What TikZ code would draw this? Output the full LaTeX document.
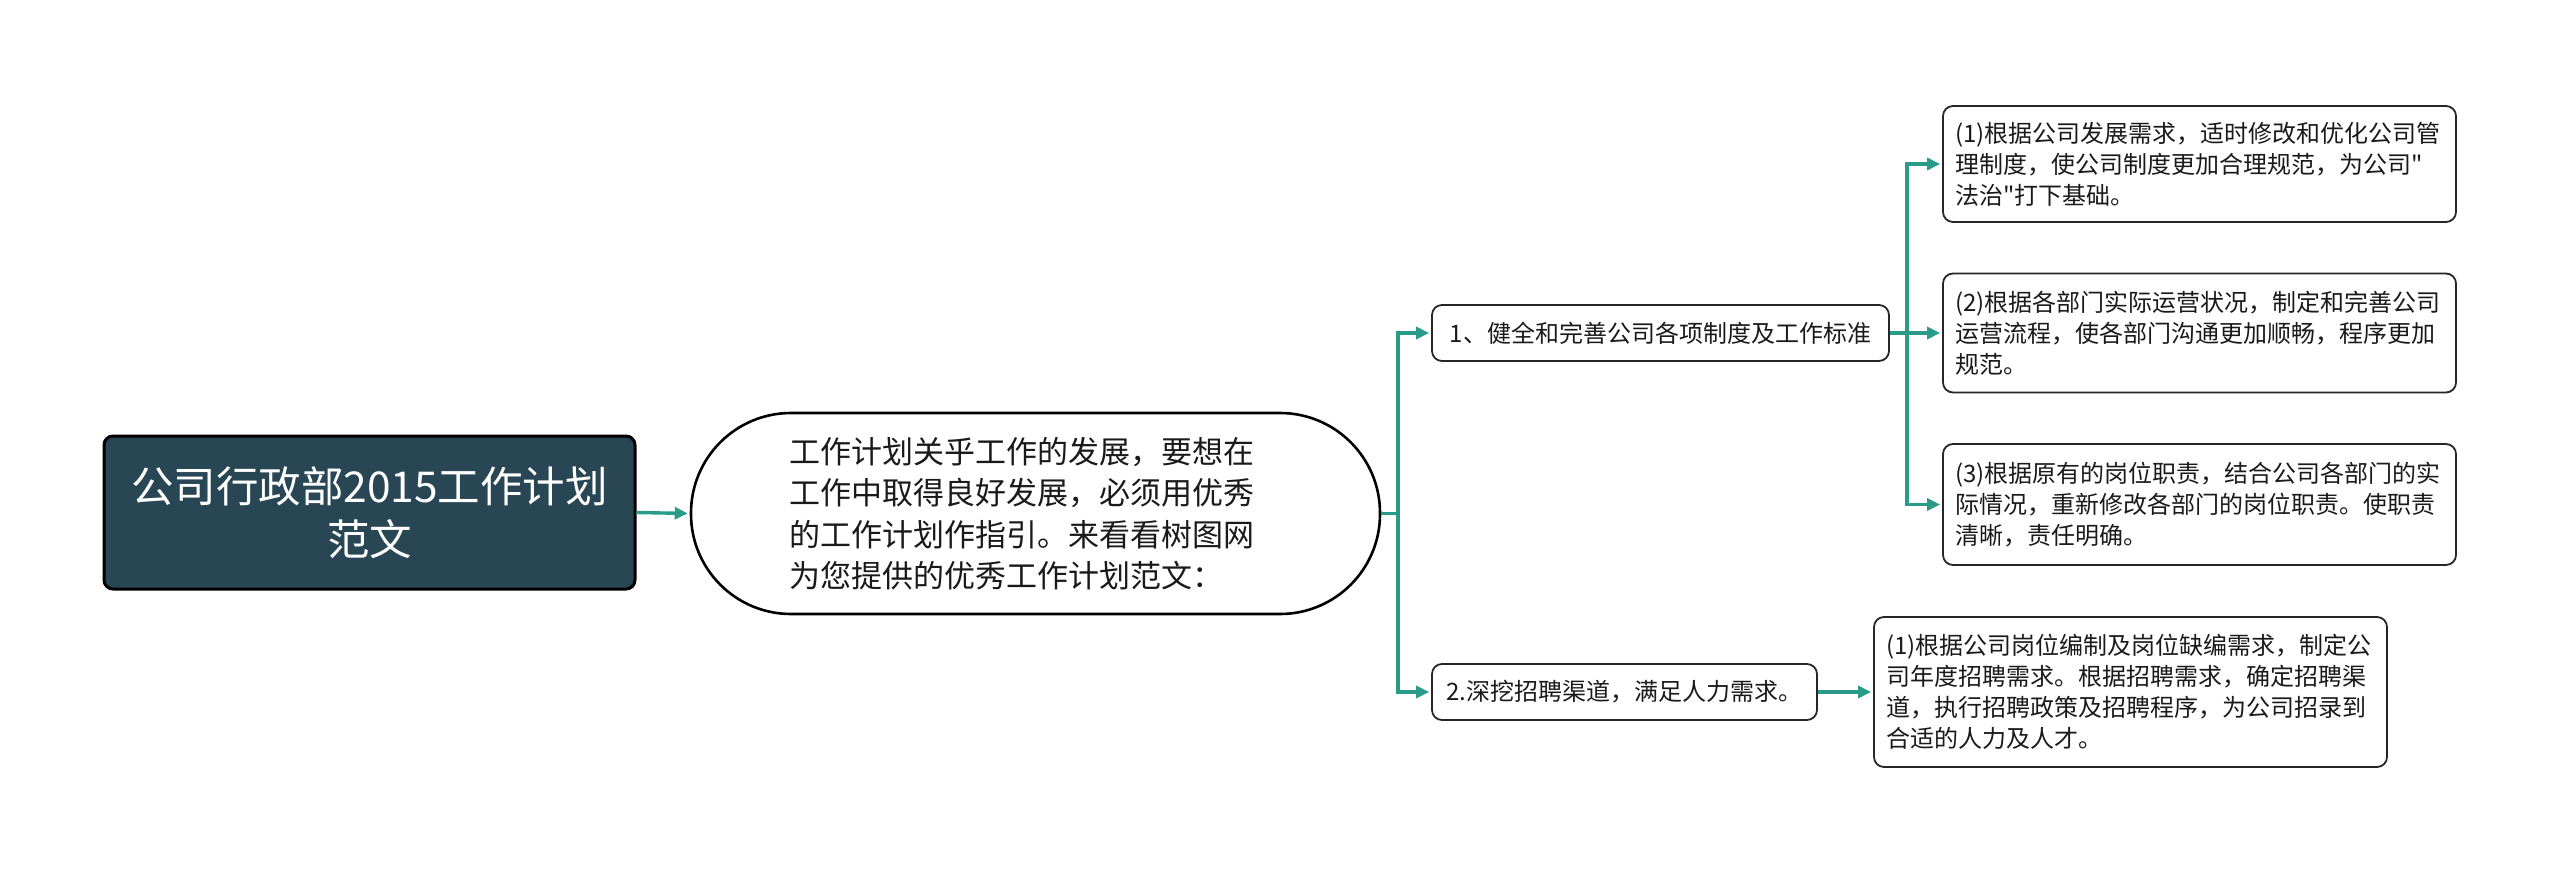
\documentclass[tikz,border=0pt]{standalone}
\usepackage{fontspec}
\newfontfamily\cjk{Noto Sans CJK SC}
\usetikzlibrary{arrows.meta}
\definecolor{teal1}{HTML}{2A9A89}
\definecolor{rootfill}{HTML}{284654}
\definecolor{txt}{HTML}{1A1A1A}
\tikzset{
  rootbox/.style={draw=black, line width=3pt, fill=rootfill, rounded corners=9pt,
    text=white, align=center, inner sep=0pt,
    font=\cjk\fontsize{42.5}{53}\selectfont},
  bubble/.style={draw=black, line width=2.6pt, fill=white, rounded corners=100pt,
    text=txt, align=left, inner sep=0pt,
    font=\cjk\fontsize{31}{41.5}\selectfont},
  midbox/.style={draw=black!85, line width=1.8pt, fill=white, rounded corners=10pt,
    text=txt, inner sep=0pt, font=\cjk\fontsize{24}{31}\selectfont},
  leafbox/.style={draw=black!85, line width=1.8pt, fill=white, rounded corners=10pt,
    text=txt, align=left, inner xsep=12pt, inner ysep=0pt,
    font=\cjk\fontsize{24}{31}\selectfont},
  link/.style={draw=teal1, line width=3.4pt},
  conn/.style={link, -{Triangle[length=13pt,width=12pt]}, shorten >=2pt},
}
\begin{document}
\begin{tikzpicture}[x=1pt,y=-1pt]
\useasboundingbox (0,0) rectangle (2560,872);

\node[rootbox, minimum width=531pt, minimum height=153pt] (root) at (369.5,512.5)
  {公司行政部2015工作计划\\范文};

\node[bubble, minimum width=689pt, minimum height=201pt, text width=492pt] (ell) at (1035.5,513.5)
  {工作计划关乎工作的发展，要想在\\工作中取得良好发展，必须用优秀\\的工作计划作指引。来看看树图网\\为您提供的优秀工作计划范文：};

\node[midbox, minimum width=457pt, minimum height=56pt] (c1) at (1660.5,333)
  {1、健全和完善公司各项制度及工作标准};
\node[midbox, minimum width=385pt, minimum height=56pt] (c2) at (1624.5,692)
  {2.深挖招聘渠道，满足人力需求。};

\node[leafbox, text width=489pt, minimum height=116pt] (l1) at (2199.5,164)
  {(1)根据公司发展需求，适时修改和优化公司管\\理制度，使公司制度更加合理规范，为公司"\\法治"打下基础。};
\node[leafbox, text width=489pt, minimum height=119pt] (l2) at (2199.5,333)
  {(2)根据各部门实际运营状况，制定和完善公司\\运营流程，使各部门沟通更加顺畅，程序更加\\规范。};
\node[leafbox, text width=489pt, minimum height=121pt] (l3) at (2199.5,504.5)
  {(3)根据原有的岗位职责，结合公司各部门的实\\际情况，重新修改各部门的岗位职责。使职责\\清晰，责任明确。};
\node[leafbox, text width=489pt, minimum height=150pt] (l4) at (2130.5,692)
  {(1)根据公司岗位编制及岗位缺编需求，制定公\\司年度招聘需求。根据招聘需求，确定招聘渠\\道，执行招聘政策及招聘程序，为公司招录到\\合适的人力及人才。};

\coordinate (j1) at (1398,513.5);
\coordinate (j2) at (1907,333);

\draw[conn] (root.east) -- (ell.west);
\draw[link] (ell.east) -- (j1);
\draw[conn] (j1) |- (c1.west);
\draw[conn] (j1) |- (c2.west);
\draw[link] (c1.east) -- (j2);
\draw[conn] (j2) |- (l1.west);
\draw[conn] (j2) -- (l2.west);
\draw[conn] (j2) |- (l3.west);
\draw[conn] (c2.east) -- (l4.west);
\end{tikzpicture}
\end{document}
